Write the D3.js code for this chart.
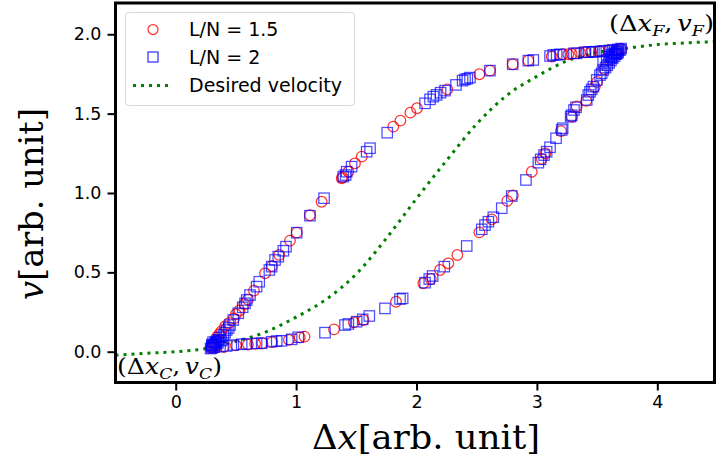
<!DOCTYPE html>
<html>
<head>
<meta charset="utf-8">
<script src="https://cdn.jsdelivr.net/npm/d3@7"></script>
<style>
  html, body { margin: 0; padding: 0; background: #fff; }
  svg { display: block; }
</style>
</head>
<body>
<svg id="chart" width="716" height="465"></svg>
<script>
// ---- data ---------------------------------------------------------------
// L/N = 1.5 : headway Δx vs velocity v (red circles)
const ln15X = [0.29,0.30,0.31,0.32,0.33,0.34,0.36,0.38,0.41,0.44,0.484,0.50,0.53,0.57,0.60,0.65,0.742,0.80,0.86,0.949,1.005,1.115,1.212,1.379,1.387,1.434,1.489,1.545,1.807,1.866,1.949,2.004,2.256,2.522,2.61,2.799,2.929,3.123,3.214,3.261,3.289,3.358,3.40,3.45,3.52,3.60,3.66,3.70,
  0.33,0.40,0.50,0.60,0.66,0.72,0.80,0.94,1.03,1.07,1.315,1.48,1.56,1.83,2.057,2.118,2.195,2.264,2.339,2.522,2.625,2.754,2.80,2.957,3.04,3.07,3.20,3.29,3.33,3.41,3.48,3.50,3.56,3.62,3.66];
const ln15V = [0.025,0.03,0.05,0.045,0.07,0.09,0.11,0.13,0.16,0.18,0.21,0.236,0.26,0.30,0.33,0.385,0.494,0.54,0.61,0.70,0.75,0.86,0.945,1.093,1.099,1.134,1.187,1.229,1.418,1.456,1.506,1.534,1.653,1.748,1.771,1.811,1.834,1.859,1.874,1.874,1.876,1.884,1.887,1.89,1.893,1.90,1.905,1.91,
  0.025,0.03,0.04,0.045,0.05,0.053,0.06,0.075,0.09,0.095,0.141,0.185,0.20,0.315,0.431,0.458,0.515,0.557,0.609,0.752,0.834,0.95,0.985,1.134,1.215,1.25,1.39,1.48,1.545,1.58,1.668,1.70,1.78,1.84,1.88];

// L/N = 2 : headway Δx vs velocity v (blue squares)
const ln2X = [0.29,0.30,0.31,0.33,0.354,0.37,0.396,0.41,0.424,0.44,0.451,0.478,0.52,0.556,0.576,0.59,0.617,0.672,0.694,0.778,0.797,0.825,0.852,0.894,0.916,1.005,1.115,1.232,1.392,1.411,1.42,1.461,1.586,1.614,1.757,2.071,2.112,2.14,2.167,2.20,2.237,2.328,2.383,2.403,2.422,2.444,2.61,2.799,2.929,2.97,3.109,3.136,3.164,3.192,3.308,3.33,3.40,3.43,3.46,3.49,3.53,3.56,3.60,3.63,3.67,3.70,
  0.30,0.32,0.368,0.424,0.479,0.548,0.59,0.672,0.714,0.797,0.839,0.88,0.963,1.018,1.24,1.406,1.434,1.503,1.553,1.608,1.738,1.863,1.885,2.071,2.106,2.134,2.231,2.417,2.542,2.569,2.597,2.638,2.708,2.791,2.909,3.012,3.031,3.059,3.081,3.109,3.159,3.206,3.214,3.28,3.289,3.308,3.325,3.414,3.427,3.441,3.455,3.469,3.497,3.524,3.538,3.551,3.57,3.585,3.60,3.615,3.63,3.645,3.66,3.675,3.69,
  0.30,0.31,0.33,0.34,0.35,0.36,0.38,0.32,3.58,3.60,3.62,3.64,3.65,3.66,3.68,3.55,3.62,3.67];
const ln2V = [0.02,0.035,0.042,0.06,0.074,0.09,0.105,0.12,0.137,0.15,0.168,0.20,0.242,0.28,0.305,0.326,0.357,0.41,0.441,0.515,0.536,0.578,0.599,0.636,0.662,0.75,0.857,0.967,1.103,1.113,1.134,1.166,1.26,1.282,1.38,1.565,1.59,1.607,1.618,1.632,1.645,1.681,1.708,1.716,1.72,1.727,1.771,1.811,1.834,1.838,1.863,1.87,1.87,1.874,1.88,1.88,1.887,1.888,1.889,1.89,1.893,1.895,1.898,1.90,1.905,1.91,
  0.025,0.028,0.032,0.036,0.042,0.047,0.049,0.053,0.053,0.063,0.067,0.069,0.078,0.091,0.12,0.168,0.175,0.189,0.204,0.225,0.273,0.332,0.336,0.435,0.458,0.477,0.536,0.666,0.771,0.798,0.819,0.847,0.904,0.981,1.082,1.191,1.212,1.239,1.26,1.288,1.345,1.397,1.408,1.481,1.49,1.523,1.54,1.586,1.617,1.638,1.653,1.67,1.712,1.743,1.754,1.775,1.79,1.805,1.82,1.835,1.85,1.862,1.875,1.888,1.90,
  0.045,0.06,0.05,0.065,0.055,0.075,0.07,0.04,1.84,1.86,1.87,1.88,1.875,1.89,1.90,1.83,1.855,1.88];

// desired velocity curve samples
const desiredX = [-0.5,-0.25,0,0.25,0.5,0.75,1.0,1.25,1.5,1.75,2.0,2.25,2.5,2.75,3.0,3.25,3.5,3.75,4.0,4.25,4.5];
const desiredV = [-0.022,-0.01,0.0,0.02,0.065,0.125,0.218,0.33,0.49,0.715,0.965,1.205,1.435,1.615,1.735,1.832,1.885,1.912,1.935,1.946,1.955];

const xTicks = [0, 1, 2, 3, 4];
const yTicks = [0.0, 0.5, 1.0, 1.5, 2.0];
const legendLabels = ["L/N = 1.5", "L/N = 2", "Desired velocity"];

// ---- layout -------------------------------------------------------------
const svg = d3.select("#chart");
const plotL = 115.5, plotR = 714.5, plotT = 3, plotB = 382.5;

const x = d3.scaleLinear().domain([-0.5, 4.475]).range([plotL, plotR]);
const y = d3.scaleLinear().domain([-0.194, 2.197]).range([plotB, plotT]);

const RED = "#ff0000", BLUE = "#0000ff", GREEN = "#008000";
const sansFont = "'DejaVu Sans', sans-serif";
const serifFont = "'DejaVu Serif', 'Liberation Serif', serif";

svg.append("defs").append("clipPath").attr("id", "plot-clip")
  .append("rect").attr("x", plotL).attr("y", plotT)
  .attr("width", plotR - plotL).attr("height", plotB - plotT);

const plot = svg.append("g").attr("clip-path", "url(#plot-clip)");

// desired velocity (dotted)
const desired = desiredX.map((d, i) => [d, desiredV[i]]);
plot.append("path")
  .datum(desired)
  .attr("fill", "none")
  .attr("stroke", GREEN)
  .attr("stroke-width", 3)
  .attr("stroke-dasharray", "3,5")
  .attr("d", d3.line().x(d => x(d[0])).y(d => y(d[1])).curve(d3.curveMonotoneX));

// L/N = 1.5 circles
const ln15 = ln15X.map((d, i) => [d, ln15V[i]]);
plot.append("g").selectAll("circle")
  .data(ln15).join("circle")
  .attr("cx", d => x(d[0])).attr("cy", d => y(d[1]))
  .attr("r", 5.3)
  .attr("fill", "none")
  .attr("stroke", RED)
  .attr("stroke-opacity", 0.8)
  .attr("stroke-width", 1.25);

// L/N = 2 squares
const ln2 = ln2X.map((d, i) => [d, ln2V[i]]);
plot.append("g").selectAll("rect")
  .data(ln2).join("rect")
  .attr("x", d => x(d[0]) - 5.2).attr("y", d => y(d[1]) - 5.2)
  .attr("width", 10.4).attr("height", 10.4)
  .attr("fill", "none")
  .attr("stroke", BLUE)
  .attr("stroke-opacity", 0.7)
  .attr("stroke-width", 1.25);

// ---- axes ---------------------------------------------------------------
const xAxis = svg.append("g")
  .attr("transform", `translate(0,${plotB})`)
  .call(d3.axisBottom(x).tickValues(xTicks).tickFormat(d3.format("d")).tickSize(8).tickPadding(5));
const yAxis = svg.append("g")
  .attr("transform", `translate(${plotL},0)`)
  .call(d3.axisLeft(y).tickValues(yTicks).tickFormat(d3.format(".1f")).tickSize(8).tickPadding(6));

[xAxis, yAxis].forEach(ax => {
  ax.select(".domain").remove();
  ax.selectAll(".tick line").attr("stroke", "#000").attr("stroke-width", 2);
  ax.selectAll(".tick text").attr("fill", "#000")
    .style("font-family", sansFont).style("font-size", "17.5px");
});

// frame
svg.append("rect")
  .attr("x", plotL).attr("y", plotT)
  .attr("width", plotR - plotL).attr("height", plotB - plotT)
  .attr("fill", "none").attr("stroke", "#000").attr("stroke-width", 3);

// ---- axis titles --------------------------------------------------------
const xTitle = svg.append("text")
  .attr("x", 426).attr("y", 449)
  .attr("text-anchor", "middle")
  .attr("textLength", 228).attr("lengthAdjust", "spacingAndGlyphs")
  .style("font-family", serifFont).style("font-size", "33px");
xTitle.append("tspan").text("Δ");
xTitle.append("tspan").style("font-style", "italic").text("x");
xTitle.append("tspan").text("[arb.  unit]");

const yTitle = svg.append("text")
  .attr("transform", "translate(43,204) rotate(-90)")
  .attr("text-anchor", "middle")
  .attr("textLength", 192).attr("lengthAdjust", "spacingAndGlyphs")
  .style("font-family", serifFont).style("font-size", "33px");
yTitle.append("tspan").style("font-style", "italic").text("v");
yTitle.append("tspan").text("[arb.  unit]");

// ---- point annotations --------------------------------------------------
function pointLabel(px, py, sub, anchor) {
  const t = svg.append("text")
    .attr("x", px).attr("y", py)
    .attr("text-anchor", anchor)
    .attr("textLength", 105).attr("lengthAdjust", "spacingAndGlyphs")
    .style("font-family", serifFont).style("font-size", "22px");
  t.append("tspan").text("(Δ");
  t.append("tspan").style("font-style", "italic").text("x");
  t.append("tspan").style("font-style", "italic").style("font-size", "15px").attr("dy", 5).text(sub);
  t.append("tspan").attr("dy", -5).text(",");
  t.append("tspan").style("font-style", "italic").attr("dx", 4).text("v");
  t.append("tspan").style("font-style", "italic").style("font-size", "15px").attr("dy", 5).text(sub);
  t.append("tspan").attr("dy", -5).text(")");
  return t;
}
pointLabel(117, 374, "C", "start");
pointLabel(714, 31, "F", "end");

// ---- legend -------------------------------------------------------------
const legend = svg.append("g");
legend.append("rect")
  .attr("x", 125.5).attr("y", 12.5).attr("width", 229).attr("height", 93)
  .attr("rx", 3).attr("fill", "#fff").attr("fill-opacity", 0.85)
  .attr("stroke", "#d9d9d9").attr("stroke-width", 1);

const rowY = [29.5, 57, 85.5];
legend.append("circle").attr("cx", 153).attr("cy", rowY[0]).attr("r", 5)
  .attr("fill", "none").attr("stroke", RED).attr("stroke-opacity", 0.8).attr("stroke-width", 1.25);
legend.append("rect").attr("x", 148).attr("y", rowY[1] - 5).attr("width", 10).attr("height", 10)
  .attr("fill", "none").attr("stroke", BLUE).attr("stroke-opacity", 0.8).attr("stroke-width", 1.25);
legend.append("line").attr("x1", 133).attr("x2", 173).attr("y1", rowY[2]).attr("y2", rowY[2])
  .attr("stroke", GREEN).attr("stroke-width", 3).attr("stroke-dasharray", "3,5");

legend.selectAll("text.lbl").data(legendLabels).join("text")
  .attr("class", "lbl")
  .attr("x", 189).attr("y", (d, i) => rowY[i])
  .attr("dy", "0.36em")
  .style("font-family", sansFont).style("font-size", "19px")
  .text(d => d);
</script>
</body>
</html>
